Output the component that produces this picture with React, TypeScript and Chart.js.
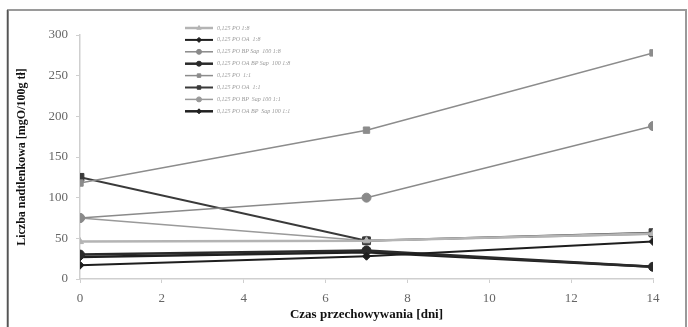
import React, { useEffect, useRef } from "react";
import { Chart, registerables } from "chart.js";
import { drawPoint } from "chart.js/helpers";

Chart.register(...registerables);

const days = [0, 7, 14];
const xTicks = [0, 2, 4, 6, 8, 10, 12, 14];
const yTicks = [0, 50, 100, 150, 200, 250, 300];

const seriesNames = [
  "0,125 PO 1:8",
  "0,125 PO OA  1:8",
  "0,125 PO BP Sap  100 1:8",
  "0,125 PO OA BP Sap  100 1:8",
  "0,125 PO  1:1",
  "0,125 PO OA  1:1",
  "0,125 PO BP  Sap 100 1:1",
  "0,125 PO OA BP  Sap 100 1:1",
];

const s1 = [46, 47, 56];
const s2 = [17, 28, 46];
const s3 = [75, 100, 188];
const s4 = [30, 35, 15];
const s5 = [118, 183, 278];
const s6 = [125, 47, 57];
const s7 = [75, 47, 55];
const s8 = [27, 33, 15];

const seriesValues = [s1, s2, s3, s4, s5, s6, s7, s8];
const seriesColors = ["#b4b4b4", "#1e1e1e", "#8a8a8a", "#2a2a2a", "#8c8c8c", "#3a3a3a", "#9a9a9a", "#202020"];
const seriesWidths = [2.5, 2, 1.5, 2.5, 1.5, 2, 1.5, 2.5];
const seriesMarkers = ["triangle", "rectRot", "circle", "circle", "rect", "rect", "circle", "rectRot"];
const seriesRadius = [4, 4, 4.5, 4.5, 4.5, 5.5, 4.5, 4];

const legendPlugin = {
  id: "innerLegend",
  afterDraw(chart: any) {
    const ctx = chart.ctx;
    ctx.save();
    const x0 = 185;
    const x1 = 213;
    chart.data.datasets.forEach((ds: any, i: number) => {
      const y = 28 + i * 11.9;
      ctx.strokeStyle = ds.borderColor;
      ctx.lineWidth = ds.borderWidth;
      ctx.beginPath();
      ctx.moveTo(x0, y);
      ctx.lineTo(x1, y);
      ctx.stroke();
      ctx.fillStyle = ds.backgroundColor;
      ctx.lineWidth = 1;
      drawPoint(ctx, { pointStyle: ds.pointStyle, radius: 2.5, borderWidth: 1, rotation: 0 }, (x0 + x1) / 2, y);
      ctx.fillStyle = "#9a9a9a";
      ctx.font = "italic 6px 'Liberation Serif'";
      ctx.textBaseline = "middle";
      ctx.textAlign = "left";
      ctx.fillText(ds.label, 217, y);
    });
    ctx.restore();
  },
};

const framePlugin = {
  id: "frame",
  beforeDraw(chart: any) {
    const ctx = chart.ctx;
    ctx.save();
    ctx.fillStyle = "#ffffff";
    ctx.fillRect(0, 0, chart.width, chart.height);
    ctx.strokeStyle = "#9a9a9a";
    ctx.lineWidth = 2;
    ctx.beginPath();
    ctx.moveTo(8, 330);
    ctx.lineTo(8, 10);
    ctx.lineTo(686, 10);
    ctx.lineTo(686, 330);
    ctx.stroke();
    ctx.strokeStyle = "#555";
    ctx.lineWidth = 1.5;
    ctx.beginPath();
    ctx.moveTo(7.5, 330);
    ctx.lineTo(7.5, 10);
    ctx.stroke();
    ctx.restore();
  },
};

export default function App() {
  const ref = useRef<HTMLCanvasElement>(null);
  useEffect(() => {
    if (!ref.current) return;
    const chart = new Chart(ref.current, {
      type: "line",
      data: {
        datasets: seriesValues.map((vals, i) => ({
          label: seriesNames[i],
          data: vals.map((v, j) => ({ x: days[j], y: v })),
          borderColor: seriesColors[i],
          backgroundColor: seriesColors[i],
          borderWidth: seriesWidths[i],
          pointStyle: seriesMarkers[i] as any,
          pointRadius: seriesRadius[i],
          pointBorderWidth: 1,
          tension: 0,
        })),
      },
      options: {
        animation: false,
        responsive: false,
        layout: { padding: { left: 0, right: 35, top: 35, bottom: 0 } },
        plugins: { legend: { display: false }, tooltip: { enabled: false } },
        scales: {
          x: {
            type: "linear",
            min: 0,
            max: 14,
            afterBuildTicks: (s: any) => {
              s.ticks = xTicks.map((v) => ({ value: v }));
            },
            afterFit: (s: any) => {
              s.height = 48;
            },
            grid: { display: true, drawOnChartArea: false, tickLength: 4, color: "#cfcfcf" },
            border: { color: "#cfcfcf", width: 1.5 },
            ticks: {
              padding: 8,
              color: "#666",
              font: { family: "'Liberation Serif'", size: 13 },
              maxRotation: 0,
            },
            title: {
              display: true,
              text: "Czas przechowywania [dni]",
              color: "#111",
              font: { family: "'Liberation Serif'", size: 13, weight: "bold" },
              padding: { top: 0, bottom: 5 },
            },
          },
          y: {
            type: "linear",
            min: 0,
            max: 300,
            afterBuildTicks: (s: any) => {
              s.ticks = yTicks.map((v) => ({ value: v }));
            },
            afterFit: (s: any) => {
              s.width = 80;
            },
            grid: { display: true, drawOnChartArea: false, tickLength: 4, color: "#cfcfcf" },
            border: { color: "#cfcfcf", width: 1.5 },
            ticks: {
              padding: 8,
              color: "#666",
              font: { family: "'Liberation Serif'", size: 13 },
            },
            title: {
              display: true,
              text: "Liczba nadtlenkowa [mgO/100g tł]",
              color: "#111",
              font: { family: "'Liberation Serif'", size: 12, weight: "bold" },
              padding: { top: 15, bottom: 0 },
            },
          },
        },
      },
      plugins: [framePlugin, legendPlugin],
    });
    return () => chart.destroy();
  }, []);
  return (
    <div style={{ position: "fixed", left: 0, top: 0, width: 688, height: 327, background: "#fff" }}>
      <canvas ref={ref} width={688} height={327} style={{ display: "block" }} />
    </div>
  );
}
